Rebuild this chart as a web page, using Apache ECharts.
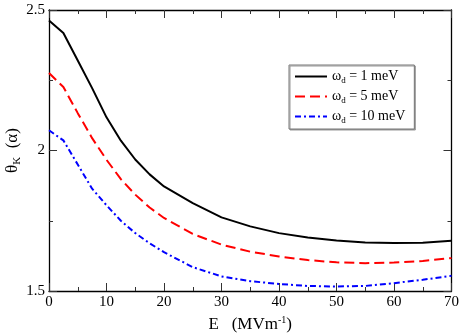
<!DOCTYPE html>
<html>
<head>
<meta charset="utf-8">
<script src="https://cdn.jsdelivr.net/npm/echarts@6/dist/echarts.min.js"></script>
<style>
html,body{margin:0;padding:0;background:#fff;}
#main{width:463px;height:335px;}
</style>
</head>
<body>
<div id="main"></div>
<script>
// E (MVm^-1) 取样点
var fieldE = [0, 2.5, 5, 7.5, 10, 12.5, 15, 17.5, 20, 25, 30, 35, 40, 45, 50, 55, 60, 65, 70];
// theta_K 读数
var theta1 = [2.463, 2.418, 2.32, 2.222, 2.118, 2.035, 1.968, 1.915, 1.872, 1.813, 1.762, 1.730, 1.706, 1.690, 1.680, 1.673, 1.671, 1.672, 1.679];
var theta5 = [2.276, 2.226, 2.133, 2.044, 1.967, 1.898, 1.843, 1.797, 1.760, 1.703, 1.665, 1.640, 1.623, 1.610, 1.602, 1.599, 1.601, 1.607, 1.617];
var theta10 = [2.072, 2.036, 1.950, 1.864, 1.805, 1.750, 1.706, 1.670, 1.638, 1.585, 1.552, 1.535, 1.525, 1.518, 1.516, 1.518, 1.528, 1.540, 1.554];
var seriesNames = ['ω{sub|d} = 1 meV', 'ω{sub|d} = 5 meV', 'ω{sub|d} = 10 meV'];

var font = 'Liberation Serif';
var myChart = echarts.init(document.getElementById('main'));

function pairs(ys) {
    return fieldE.map(function (x, i) { return [x, ys[i]]; });
}

function frameAxis(pos, isX) {
    var ax = {
        type: 'value',
        position: pos,
        min: isX ? 0 : 1.5,
        max: isX ? 70 : 2.5,
        interval: isX ? 10 : 0.5,
        axisLine: {show: true, onZero: false, lineStyle: {color: '#000', width: 1.3}},
        axisTick: {show: true, inside: true, length: 8, lineStyle: {color: '#333', width: 1}},
        minorTick: {show: true, splitNumber: 2, length: 4, lineStyle: {color: '#333', width: 1}},
        splitLine: {show: false},
        axisLabel: {show: false}
    };
    return ax;
}

var xBottom = frameAxis('bottom', true);
xBottom.axisLabel = {show: true, color: '#000', fontFamily: font, fontSize: 15, margin: 4};
xBottom.name = '{a|E   (MVm}{sup|-1}{a|)}';
xBottom.nameLocation = 'middle';
xBottom.nameGap = 24;
xBottom.nameMoveOverlap = false;
xBottom.nameTextStyle = {
    rich: {
        a: {fontFamily: font, fontSize: 17, color: '#000', lineHeight: 20},
        sup: {fontFamily: font, fontSize: 10, color: '#000', lineHeight: 10, verticalAlign: 'top'}
    }
};
var xTop = frameAxis('top', true);

var yLeft = frameAxis('left', false);
yLeft.axisLabel = {show: true, color: '#000', fontFamily: font, fontSize: 15, margin: 4};
yLeft.name = '{a|θ}{sub|K}{a|  (α)}';
yLeft.nameLocation = 'middle';
yLeft.nameGap = 26;
yLeft.nameMoveOverlap = false;
yLeft.nameRotate = 90;
yLeft.nameTextStyle = {
    rich: {
        a: {fontFamily: font, fontSize: 17, color: '#000', lineHeight: 20},
        sub: {fontFamily: font, fontSize: 11, color: '#000', lineHeight: 10, verticalAlign: 'bottom'}
    }
};
var yRight = frameAxis('right', false);

myChart.setOption({
    backgroundColor: '#fff',
    animation: false,
    grid: {left: 49, right: 11.5, top: 10, bottom: 44, containLabel: false, outerBoundsMode: 'none'},
    xAxis: [xBottom, xTop],
    yAxis: [yLeft, yRight],
    legend: {
        orient: 'vertical',
        left: 289,
        top: 65,
        itemWidth: 32,
        itemHeight: 14,
        itemGap: 3,
        padding: [3, 9, 4, 5],
        backgroundColor: '#fff',
        borderColor: '#777',
        borderWidth: 1,
        shadowColor: '#999',
        shadowOffsetX: 1,
        shadowOffsetY: 1,
        shadowBlur: 0,
        selectedMode: false,
        itemStyle: {opacity: 0, borderWidth: 0},
        textStyle: {
            fontFamily: font, fontSize: 14, color: '#000', lineHeight: 17,
            rich: {sub: {fontFamily: font, fontSize: 9, color: '#000', lineHeight: 17, verticalAlign: 'bottom'}}
        }
    },
    series: [
        {
            name: seriesNames[0], type: 'line', symbol: 'none', data: pairs(theta1),
            lineStyle: {color: '#000', width: 2, type: 'solid'}, itemStyle: {color: '#000'}
        },
        {
            name: seriesNames[1], type: 'line', symbol: 'none', data: pairs(theta5),
            lineStyle: {color: '#ff0000', width: 2, type: [10, 5]}, itemStyle: {color: '#ff0000'}
        },
        {
            name: seriesNames[2], type: 'line', symbol: 'none', data: pairs(theta10),
            lineStyle: {color: '#0000ff', width: 2, type: [6, 3, 2, 3]}, itemStyle: {color: '#0000ff'}
        }
    ]
});
</script>
</body>
</html>
